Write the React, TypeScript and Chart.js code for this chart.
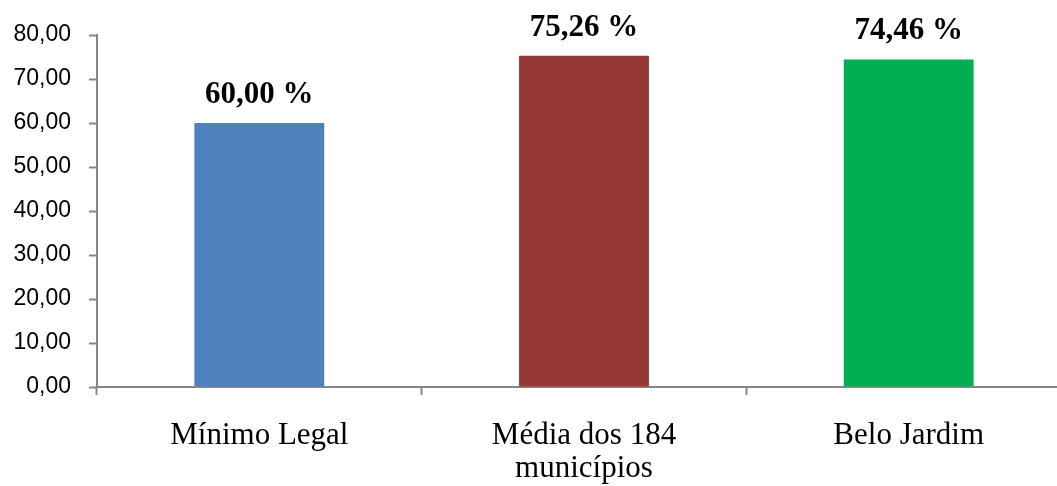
import React, { useEffect, useRef } from "react";
import { Chart, registerables } from "chart.js";

Chart.register(...registerables);

// Categories and percentages
const categories: (string | string[])[] = ["Mínimo Legal", ["Média dos 184", "municípios"], "Belo Jardim"];
const values: number[] = [60.0, 75.26, 74.46];
const barColors: string[] = ["#4F81BD", "#953735", "#00B050"];

// Y axis range
const yMin = 0;
const yMax = 80;
const yStep = 10;

const axisGray = "#868686";
const serif = "'Liberation Serif', 'Times New Roman', serif";

const fmt = (v: number) => v.toFixed(2).replace(".", ",");

// Draws the bold percentage above each bar
const valueLabels = {
  id: "valueLabels",
  afterDatasetsDraw(chart: any) {
    const ctx = chart.ctx;
    const meta = chart.getDatasetMeta(0);
    ctx.save();
    ctx.font = `bold 31px ${serif}`;
    ctx.fillStyle = "#000000";
    ctx.textAlign = "center";
    ctx.textBaseline = "alphabetic";
    meta.data.forEach((bar: any, i: number) => {
      const v = chart.data.datasets[0].data[i] as number;
      ctx.fillText(`${fmt(v)} %`, bar.x, bar.y - 20);
    });
    ctx.restore();
  },
};

export default function App() {
  const canvasRef = useRef<HTMLCanvasElement | null>(null);

  useEffect(() => {
    if (!canvasRef.current) return;
    const chart = new Chart(canvasRef.current, {
      type: "bar",
      data: {
        labels: categories,
        datasets: [
          {
            data: values,
            backgroundColor: barColors,
            borderWidth: 0,
            categoryPercentage: 1,
            barPercentage: 0.4,
          },
        ],
      },
      options: {
        responsive: false,
        animation: false,
        events: [],
        layout: { padding: { left: 0, top: 35, right: 9, bottom: 0 } },
        plugins: {
          legend: { display: false },
          tooltip: { enabled: false },
        },
        scales: {
          x: {
            afterFit: (scale: any) => {
              scale.height = 99;
            },
            grid: {
              display: true,
              drawOnChartArea: false,
              drawTicks: true,
              tickLength: 8,
              tickWidth: 2,
              tickColor: axisGray,
            },
            border: { display: true, color: axisGray, width: 2 },
            ticks: {
              color: "#000000",
              padding: 24,
              maxRotation: 0,
              autoSkip: false,
              font: { family: serif, size: 31, lineHeight: 1.08 },
            },
          },
          y: {
            min: yMin,
            max: yMax,
            afterFit: (scale: any) => {
              scale.width = 97;
            },
            grid: {
              display: true,
              drawOnChartArea: false,
              drawTicks: true,
              tickLength: 8,
              tickWidth: 2,
              tickColor: axisGray,
            },
            border: { display: true, color: axisGray, width: 2 },
            ticks: {
              stepSize: yStep,
              color: "#000000",
              padding: 18,
              font: { family: "'Liberation Sans', Arial, sans-serif", size: 23 },
              callback: (v: any) => fmt(Number(v)),
            },
          },
        },
      },
      plugins: [valueLabels],
    });
    return () => chart.destroy();
  }, []);

  return (
    <div
      style={{
        position: "fixed",
        left: 0,
        top: 0,
        width: 1057,
        height: 486,
        overflow: "hidden",
        background: "#ffffff",
      }}
    >
      <canvas ref={canvasRef} width={1080} height={486} style={{ display: "block" }} />
    </div>
  );
}
